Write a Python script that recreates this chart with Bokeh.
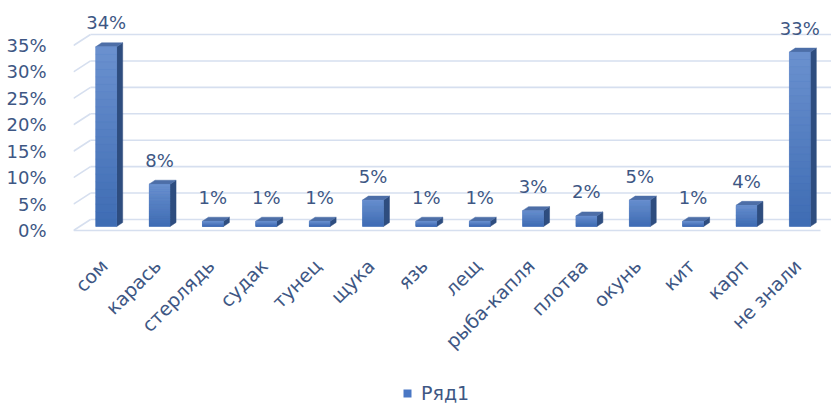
from math import pi

from bokeh.core.properties import value
from bokeh.embed import file_html
from bokeh.models import (ColumnDataSource, FixedTicker, Legend, LegendItem,
                          Range1d)
from bokeh.plotting import figure
from bokeh.resources import INLINE

# Survey answers: which fish was named, share of respondents (%)
categories = ["сом", "карась", "стерлядь", "судак", "тунец", "щука", "язь",
              "лещ", "рыба-капля", "плотва", "окунь", "кит", "карп", "не знали"]
values = [34, 8, 1, 1, 1, 5, 1, 1, 3, 2, 5, 1, 4, 33]
series_name = "Ряд1"
y_ticks = [0, 5, 10, 15, 20, 25, 30, 35]
y_tick_labels = ["0%", "5%", "10%", "15%", "20%", "25%", "30%", "35%"]

W, H = 831, 404
LEFT = 73                      # frame starts at the front-left corner of the floor
PXX = 747 / len(categories)    # px per category slot
PXY = 185 / 35                 # px per percent
Y0 = 230                       # screen row of 0 %

FONT = "DejaVu Sans"
TEXT = "#3E5784"
GRID = "#D6DFEF"


def dx(px):
    return px / PXX


def dy(px):
    return px / PXY


n = len(categories)
p = figure(width=W, height=H, output_backend="svg", toolbar_location=None,
           x_range=Range1d(0, (W - LEFT) / PXX),
           y_range=Range1d(-(H - Y0) / PXY, Y0 / PXY),
           x_axis_location=None, min_border_left=LEFT, min_border_right=0,
           min_border_top=0, min_border_bottom=0)
p.outline_line_color = None
p.xgrid.visible = False
p.ygrid.visible = False
p.background_fill_color = "white"

# value axis
ax = p.yaxis[0]
ax.ticker = FixedTicker(ticks=y_ticks)
ax.major_label_overrides = {t: s for t, s in zip(y_ticks, y_tick_labels)}
ax.axis_line_color = None
ax.major_tick_line_color = None
ax.minor_tick_line_color = None
ax.major_label_standoff = 21
ax.major_label_text_font = FONT
ax.major_label_text_font_size = "18px"
ax.major_label_text_color = TEXT

# walls and floor of the 3D box
BDX, BDY = dx(17), dy(11)
x_end = p.x_range.end + 1
p.segment(x0=[BDX] * len(y_ticks), y0=[t + BDY for t in y_ticks],
          x1=[x_end] * len(y_ticks), y1=[t + BDY for t in y_ticks],
          line_color=GRID, line_width=1.6)
p.segment(x0=[0] * len(y_ticks), y0=y_ticks,
          x1=[BDX] * len(y_ticks), y1=[t + BDY for t in y_ticks],
          line_color=GRID, line_width=1.6)
p.segment(x0=[0], y0=[0], x1=[n], y1=[0], line_color=GRID, line_width=1.6)

# bars
BW = dx(21)
FX, FY = dx(6), dy(4)          # front face offset from the front plane
DX, DY = dx(6), dy(4)          # bar depth
lefts = [i + 0.5 + FX - BW / 2 for i in range(n)]
rights = [l + BW for l in lefts]
bottoms = [FY] * n
tops = [v + FY for v in values]

side_xs = [[r, r + DX, r + DX, r] for r in rights]
side_ys = [[b, b + DY, t + DY, t] for b, t in zip(bottoms, tops)]
p.patches(side_xs, side_ys, fill_color="#2E4D7F", line_color="#2E4D7F",
          line_width=0.5)

top_xs = [[l, l + DX, r + DX, r] for l, r in zip(lefts, rights)]
top_ys = [[t, t + DY, t + DY, t] for t in tops]
p.patches(top_xs, top_ys, fill_color="#4D6EA7", line_color="#4D6EA7",
          line_width=0.5)

base = p.quad(left=lefts, right=rights, bottom=bottoms, top=tops,
              fill_color="#4A77C4", line_color=None)

# vertical shading of each front face, light at the top, darker at the foot
STRIPS = 24
c_top = (0x6B, 0x91, 0xCF)
c_bot = (0x3E, 0x6C, 0xB3)
sl, sr, sb, st, sc = [], [], [], [], []
for l, r, b, t in zip(lefts, rights, bottoms, tops):
    h = t - b
    for j in range(STRIPS):
        f = (j + 0.5) / STRIPS
        col = tuple(round(c_bot[k] + (c_top[k] - c_bot[k]) * f) for k in range(3))
        sl.append(l)
        sr.append(r)
        sb.append(b + h * j / STRIPS)
        st.append(b + h * (j + 1) / STRIPS)
        sc.append("#%02x%02x%02x" % col)
p.quad(left=sl, right=sr, bottom=sb, top=st, fill_color=sc, line_color=sc,
       line_width=0.3)

# value labels above the bars
lab_src = ColumnDataSource(dict(
    x=[(l + r) / 2 for l, r in zip(lefts, rights)],
    y=[t + dy(24) for t in tops],
    text=[f"{v}%" for v in values]))
p.text(x="x", y="y", text="text", source=lab_src, text_align="center",
       text_baseline="alphabetic", text_font=value(FONT),
       text_font_size="18px", text_color=TEXT)

# category labels, slanted
cat_src = ColumnDataSource(dict(
    x=[i + 0.5 + dx(4) for i in range(n)],
    y=[-dy(32)] * n,
    text=categories))
p.text(x="x", y="y", text="text", source=cat_src, angle=pi / 4,
       text_align="right", text_baseline="middle", text_font=value(FONT),
       text_font_size="19px", text_color=TEXT)

legend = Legend(items=[LegendItem(label=series_name, renderers=[base])],
                location=(402 - LEFT, 0), orientation="horizontal",
                border_line_color=None, background_fill_alpha=0,
                padding=0, margin=0, glyph_width=10, glyph_height=10,
                label_standoff=9, label_text_font=FONT,
                label_text_font_size="19px", label_text_color=TEXT)
p.add_layout(legend)

open("out.html", "w").write(file_html(p, INLINE))
